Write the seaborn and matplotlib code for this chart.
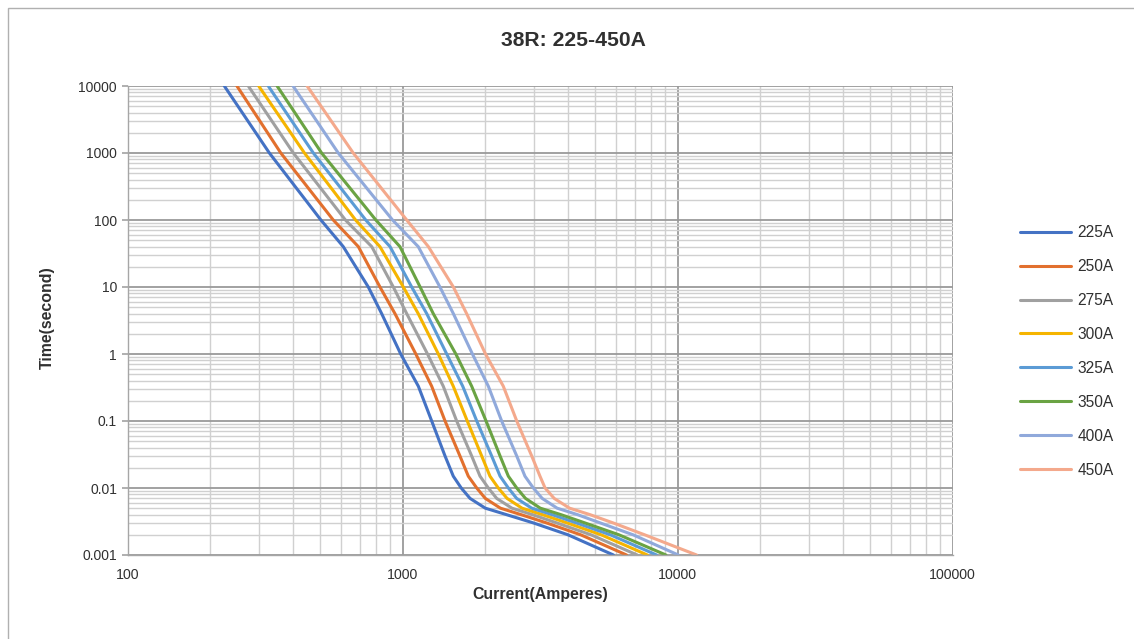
import matplotlib
matplotlib.use("Agg")
import matplotlib.pyplot as plt
import seaborn as sns
import pandas as pd
import numpy as np
from matplotlib.ticker import FixedLocator, FixedFormatter, LogLocator, NullFormatter
from matplotlib.patches import Rectangle

# ---- data ----
title = "38R: 225-450A"
x_label = "Current(Amperes)"
y_label = "Time(second)"
series_names = ["225A", "250A", "275A", "300A", "325A", "350A", "400A", "450A"]
times = [10000, 1000, 100, 40, 10, 4, 1, 0.33, 0.1, 0.03, 0.015, 0.01, 0.007, 0.005, 0.004, 0.003, 0.002, 0.001]
cur_225 = [225, 328, 505, 609, 751, 840, 985, 1142, 1277, 1428, 1530, 1635, 1760, 2000, 2390, 3000, 4000, 5850]
cur_250 = [250, 361, 560, 691, 828, 939, 1118, 1277, 1428, 1618, 1735, 1862, 2000, 2270, 2700, 3350, 4450, 6530]
cur_275 = [275, 401, 620, 773, 926, 1036, 1233, 1407, 1574, 1785, 1914, 2052, 2200, 2500, 2970, 3650, 4850, 7140]
cur_300 = [300, 440, 675, 828, 1007, 1141, 1350, 1530, 1720, 1941, 2080, 2230, 2400, 2720, 3230, 3980, 5280, 7770]
cur_325 = [325, 474, 735, 901, 1080, 1225, 1448, 1656, 1862, 2110, 2264, 2426, 2600, 2950, 3500, 4300, 5700, 8400]
cur_350 = [350, 508, 800, 979, 1159, 1294, 1563, 1785, 2013, 2264, 2426, 2603, 2800, 3170, 3770, 4620, 6130, 9080]
cur_400 = [400, 584, 920, 1141, 1368, 1531, 1796, 2052, 2294, 2603, 2788, 2991, 3220, 3650, 4330, 5250, 6900, 10070]
cur_450 = [450, 662, 1036, 1242, 1531, 1711, 2004, 2326, 2603, 2951, 3162, 3300, 3560, 4050, 4810, 5850, 7600, 11740]
x_ticks = [100, 1000, 10000, 100000]
x_tick_labels = ["100", "1000", "10000", "100000"]
y_ticks = [0.001, 0.01, 0.1, 1, 10, 100, 1000, 10000]
y_tick_labels = ["0.001", "0.01", "0.1", "1", "10", "100", "1000", "10000"]

colors = ["#4472C4", "#E2702E", "#A0A0A0", "#F5B400", "#5B9BD5", "#6AA343", "#90A9DB", "#F4A98C"]

all_series = [cur_225, cur_250, cur_275, cur_300, cur_325, cur_350, cur_400, cur_450]
rows = []
for name, cur in zip(series_names, all_series):
    for c, t in zip(cur, times):
        rows.append({"series": name, "current": c, "time": t})
df = pd.DataFrame(rows)

sns.set_theme(style="white")
plt.rcParams["font.family"] = ["Liberation Sans", "DejaVu Sans"]

W, H = 1134, 639
fig = plt.figure(figsize=(W / 100, H / 100), dpi=100)
ax = fig.add_axes([127.5 / W, 1 - 555 / H, 825 / W, (555 - 86) / H])

sns.lineplot(data=df, x="current", y="time", hue="series", palette=colors,
             sort=False, estimator=None, units="series", lw=2.2, ax=ax, legend=True)

ax.set_xscale("log")
ax.set_yscale("log")
ax.set_xlim(100, 100000)
ax.set_ylim(0.001, 10000)

ax.xaxis.set_major_locator(FixedLocator(x_ticks))
ax.xaxis.set_major_formatter(FixedFormatter(x_tick_labels))
ax.yaxis.set_major_locator(FixedLocator(y_ticks))
ax.yaxis.set_major_formatter(FixedFormatter(y_tick_labels))
ax.xaxis.set_minor_locator(LogLocator(base=10, subs=np.arange(2, 10), numticks=20))
ax.yaxis.set_minor_locator(LogLocator(base=10, subs=np.arange(2, 10), numticks=20))
ax.xaxis.set_minor_formatter(NullFormatter())
ax.yaxis.set_minor_formatter(NullFormatter())

ax.grid(which="major", color="#9a9a9a", lw=1.3)
ax.grid(which="minor", color="#d0d0d0", lw=1.0)
ax.set_axisbelow(True)

for s in ["top", "right"]:
    ax.spines[s].set_visible(False)
for s in ["left", "bottom"]:
    ax.spines[s].set_color("#a6a6a6")
    ax.spines[s].set_linewidth(1.0)

ax.tick_params(axis="y", which="major", length=4, color="#a6a6a6", labelsize=10, pad=3.5, left=True)
ax.tick_params(axis="y", which="minor", length=0)
ax.tick_params(axis="x", which="both", length=0, labelsize=10.2, pad=9.5)
for lab in ax.get_xticklabels() + ax.get_yticklabels():
    lab.set_color("#303030")

ax.set_xlabel("")
ax.set_ylabel("")
fig.text(540 / W, 1 - 594 / H, x_label, ha="center", va="center",
         fontsize=11.4, fontweight="bold", color="#303030")
fig.text(47 / W, 1 - 318 / H, y_label, ha="center", va="center", rotation=90,
         fontsize=11.4, fontweight="bold", color="#303030")
fig.text(573 / W, 1 - 40 / H, title, ha="center", va="center",
         fontsize=15.2, fontweight="bold", color="#303030")

handles, labels = ax.get_legend_handles_labels()
ax.get_legend().remove()
leg = fig.legend(handles, labels, loc="upper left", bbox_to_anchor=(1006 / W, 1 - 211 / H),
                 frameon=False, fontsize=11.2, handlelength=3.3, labelspacing=1.22,
                 handletextpad=0.4)
for t in leg.get_texts():
    t.set_color("#303030")
for h in leg.get_lines():
    h.set_linewidth(2.2)

# outer chart frame
fig.patches.append(Rectangle((8 / W, -0.01), 1.1, 1 - 8 / H + 0.01, transform=fig.transFigure,
                             fill=False, edgecolor="#b0b0b0", lw=1.0))

fig.savefig("out.png", dpi=100)
